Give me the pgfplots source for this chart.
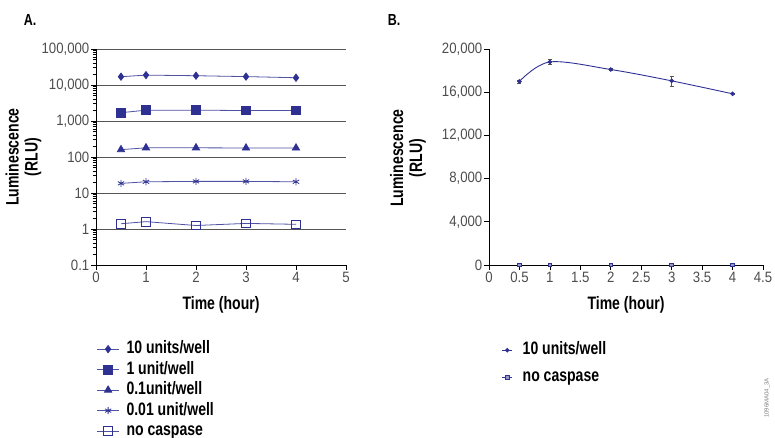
\documentclass[border=0pt]{standalone}
\usepackage{pgfplots}
\pgfplotsset{compat=1.18}
\usepackage{fontspec}
\setmainfont{Liberation Sans}
\newfontfamily\labf{Liberation Sans}[FakeStretch=0.78]
\newfontfamily\tickf{Liberation Sans}[FakeStretch=0.88]
\definecolor{navy}{HTML}{2E3192}
\definecolor{navyline}{HTML}{4F52A3}
\definecolor{tickgray}{HTML}{4D4D4D}
\definecolor{gridgray}{HTML}{555555}
\newcommand\labfont{\labf\bfseries\fontsize{18}{19}\selectfont}
\begin{document}
\begin{tikzpicture}
\path[use as bounding box] (0pt,0pt) rectangle (775pt,438pt);
\pgfplotsset{
 common/.style={
  scale only axis,
  axis x line*=bottom, axis y line*=left,
  tick align=outside,
  major tick length=5pt, minor tick length=3.5pt,
  axis line style={black, line width=0.9pt},
  every tick/.style={black, line width=0.7pt},
  tick label style={font=\tickf\fontsize{15}{16}\selectfont, text=tickgray, inner sep=1.5pt},
  /pgf/number format/assume math mode=true,
  label style={font=\labfont},
  xlabel={Time (hour)},
  ylabel={Luminescence\\(RLU)},
  ylabel style={align=center, at={(axis description cs:-0.29,0.5)}, anchor=center},
  xlabel style={at={(axis description cs:0.5,-0.185)}, anchor=center},
  legend cell align=left,
  legend style={draw=none, fill=none, font=\labfont, column sep=6pt,
    nodes={inner sep=1pt, text height=12pt, text depth=3pt}},
 }}
% Panel A
\begin{axis}[common,
  at={(96pt,173pt)}, anchor=south west, width=250pt, height=216pt,
  xmin=0, xmax=5, xtick={0,1,2,3,4,5},
  ymode=log, ymin=0.1, ymax=100000,
  ytick={0.1,1,10,100,1000,10000,100000},
  yticklabels={0.1,1,10,100,{1,000},{10,000},{100,000}},
  minor ytick={0.2,0.3,0.4,0.5,0.6,0.7,0.8,0.9,2,3,4,5,6,7,8,9,20,30,40,50,60,70,80,90,200,300,400,500,600,700,800,900,2000,3000,4000,5000,6000,7000,8000,9000,20000,30000,40000,50000,60000,70000,80000,90000},
  ymajorgrids, major grid style={gridgray, line width=0.9pt},
  legend style={at={(axis description cs:-0.01,-0.34)}, anchor=north west, row sep=3.5pt},
  legend image code/.code={\draw[mark repeat=2, mark phase=2, #1] plot coordinates {(0pt,0pt) (11pt,0pt) (22pt,0pt)};},
  every axis plot/.append style={navyline, line width=0.8pt, mark options={navy, solid}},
]
\addplot[mark=diamond*, mark size=3.6pt] coordinates {(0.5,17000)(1,18800)(2,18100)(3,17100)(4,15900)};
\addlegendentry{10 units/well}
\addplot[mark=square*, mark size=4.3pt] coordinates {(0.5,1700)(1,2000)(2,2000)(3,1950)(4,1950)};
\addlegendentry{1 unit/well}
\addplot[mark=triangle*, mark size=4.2pt] coordinates {(0.5,160)(1,180)(2,180)(3,178)(4,178)};
\addlegendentry{0.1unit/well}
\addplot[mark=asterisk, mark size=3.6pt] coordinates {(0.5,18.5)(1,20.5)(2,21)(3,21)(4,20.5)};
\addlegendentry{0.01 unit/well}
\addplot[mark=square, mark size=4.3pt, mark options={navy, fill=white, line width=0.8pt}] coordinates {(0.5,1.4)(1,1.6)(2,1.25)(3,1.43)(4,1.35)};
\addlegendentry{no caspase}
\end{axis}
% Panel B
\begin{axis}[common,
  at={(489pt,173pt)}, anchor=south west, width=274pt, height=216pt,
  xmin=0, xmax=4.5, xtick={0,0.5,...,4.5},
  ymin=0, ymax=20000, ytick={0,4000,8000,12000,16000,20000},
  scaled y ticks=false,
  /pgf/number format/.cd, 1000 sep={,}, /pgfplots/.cd,
  ylabel style={at={(axis description cs:-0.296,0.495)}},
  legend style={at={(axis description cs:0.035,-0.345)}, anchor=north west, row sep=10pt, column sep=9pt},
  legend image code/.code={\draw[mark repeat=2, mark phase=2, #1] plot coordinates {(0pt,0pt) (5pt,0pt) (10pt,0pt)};},
  every axis plot/.append style={navy, line width=0.9pt, mark options={navy, solid}},
]
\addplot[smooth, tension=0.55, mark=*, mark size=1.8pt,
  error bars/.cd, y dir=both, y explicit,
  error bar style={gridgray, line width=0.8pt},
  error mark options={rotate=90, mark size=2pt, gridgray}]
  coordinates {(0.5,17000) +- (0,150) (1,18800) +- (0,250) (2,18100) +- (0,100) (3,17050) +- (0,450) (4,15850) +- (0,80)};
\addlegendentry{10 units/well}
\addplot[mark=square*, mark size=1.8pt, mark options={fill=navy!50}] coordinates {(0.5,0)(1,0)(2,0)(3,0)(4,0)};
\addlegendentry{no caspase}
\end{axis}
\node[font=\labf\bfseries\fontsize{16}{17}\selectfont] at (30pt,418pt) {A.};
\node[font=\labf\bfseries\fontsize{16}{17}\selectfont] at (394pt,418pt) {B.};
\node[rotate=90, font=\fontsize{6}{7}\selectfont, text=gray] at (767pt,40pt) {1096MA04\_3A};
\end{tikzpicture}
\end{document}
